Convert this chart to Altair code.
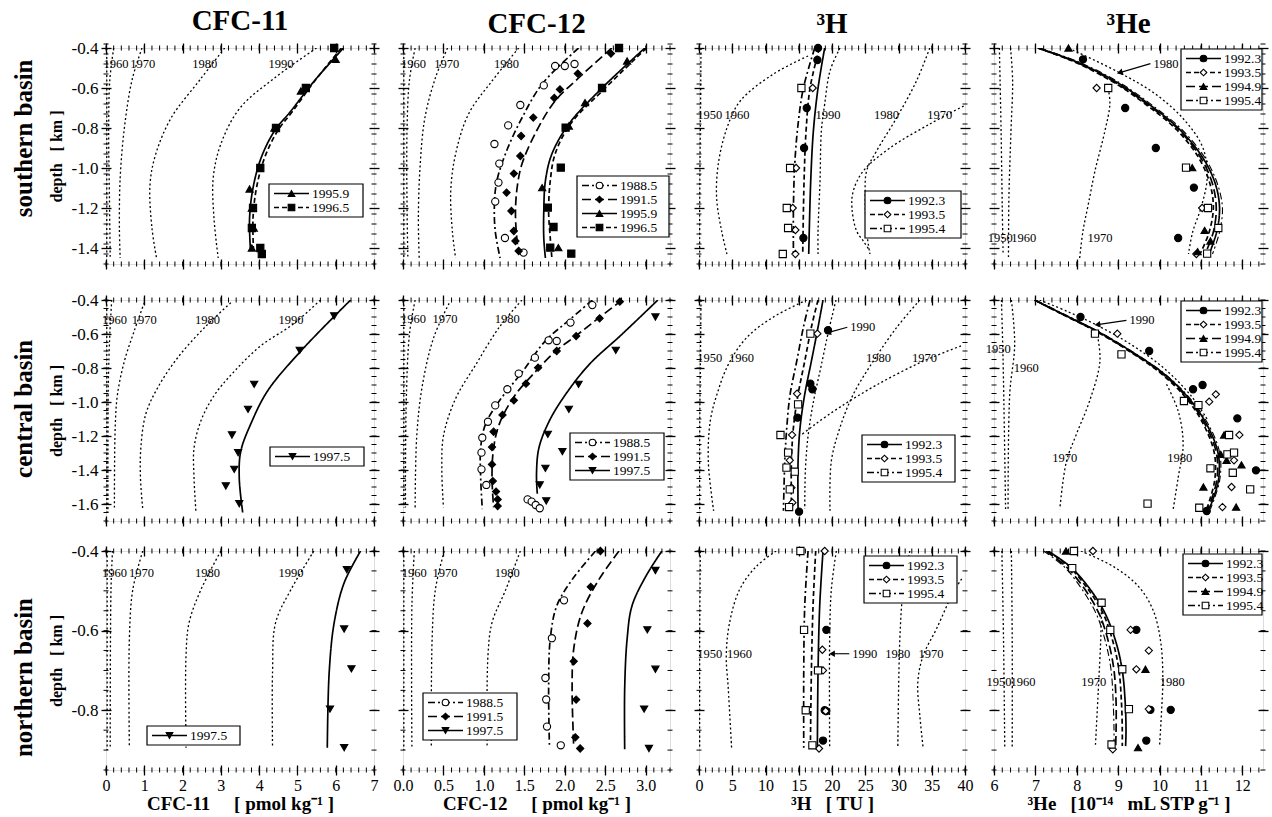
import math
import altair as alt
import pandas as pd

FONT = "Liberation Serif"

# ---------------- axis ranges, ticks and titles ----------------
X_DOMAINS = {"cfc11": [0, 7], "cfc12": [0, 3.3], "h3": [0, 40], "he3": [6, 12.5]}
X_TICKS = {
    "cfc11": [0, 1, 2, 3, 4, 5, 6, 7],
    "cfc12": [0.0, 0.5, 1.0, 1.5, 2.0, 2.5, 3.0],
    "h3": [0, 5, 10, 15, 20, 25, 30, 35, 40],
    "he3": [6, 7, 8, 9, 10, 11, 12],
}
X_MINOR_STEP = {"cfc11": 0.2, "cfc12": 0.1, "h3": 1.0, "he3": 0.2}
Y_DOMAINS = {"south": [-1.48, -0.4], "central": [-1.7, -0.4], "north": [-0.95, -0.4]}
Y_TICKS = {
    "south": [-0.4, -0.6, -0.8, -1.0, -1.2, -1.4],
    "central": [-0.4, -0.6, -0.8, -1.0, -1.2, -1.4, -1.6],
    "north": [-0.4, -0.6, -0.8],
}
Y_MINOR_STEP = {"south": 0.05, "central": 0.05, "north": 0.05}
COLUMNS = ["cfc11", "cfc12", "h3", "he3"]
ROWS = ["south", "central", "north"]
COLUMN_TITLES = {"cfc11": "CFC-11", "cfc12": "CFC-12", "h3": "³H", "he3": "³He"}
ROW_TITLES = {"south": "southern basin", "central": "central basin", "north": "northern basin"}
NB = "\u00a0"
X_TITLES = {
    "cfc11": "CFC-11" + NB * 5 + "[ pmol kg⁻¹ ]",
    "cfc12": "CFC-12" + NB * 5 + "[ pmol kg⁻¹ ]",
    "h3": "³H" + NB * 3 + "[ TU ]",
    "he3": "³He" + NB * 3 + "[10⁻¹⁴" + NB * 3 + "mL STP g⁻¹ ]",
}
Y_TITLE = "depth" + NB * 3 + "[ km ]"

# ---------------- series styles ----------------
STYLE_NAMES = ["solid", "dash", "longdash", "dashdot", "dot"]
STYLE_DASHES = [[1, 0], [5, 3], [9, 4], [7, 3, 2, 3], [2, 2.5]]
SERIES_STYLE = {"1988.5": "dashdot", "1991.5": "longdash", "1995.9": "solid", "1996.5": "dash",
                "1997.5": "solid", "1992.3": "solid", "1993.5": "dash", "1994.9": "longdash",
                "1995.4": "dashdot"}
SERIES_SHAPE = {"1988.5": "circle", "1991.5": "diamond", "1995.9": "triangle-up", "1996.5": "square",
                "1997.5": "triangle-down", "1992.3": "circle", "1993.5": "diamond",
                "1994.9": "triangle-up", "1995.4": "square"}
SERIES_FILL = {"1988.5": "white", "1991.5": "black", "1995.9": "black", "1996.5": "black",
               "1997.5": "black", "1992.3": "black", "1993.5": "white", "1994.9": "black",
               "1995.4": "white"}

# =============== SOUTHERN BASIN ===============
S_CFC11_ISO = {
    "1950": [(0.02, -0.4), (0.02, -1.45)],
    "1960": [(0.2, -0.4), (0.1, -0.56), (0.07, -0.8), (0.09, -1.15), (0.11, -1.45)],
    "1970": [(0.94, -0.4), (0.68, -0.56), (0.48, -0.8), (0.37, -1.05), (0.35, -1.3), (0.37, -1.45)],
    "1980": [(3.1, -0.4), (2.45, -0.56), (1.7, -0.75), (1.3, -0.93), (1.15, -1.08), (1.2, -1.3), (1.32, -1.45)],
    "1990": [(5.5, -0.4), (4.4, -0.55), (3.5, -0.7), (3.0, -0.88), (2.8, -1.05), (2.82, -1.25), (2.93, -1.45)],
}
S_CFC11_LABELS = [("1960", 0.26, -0.48), ("1970", 0.96, -0.48), ("1980", 2.58, -0.48), ("1990", 4.57, -0.48)]
S_CFC11_MODEL = {
    "1995.9": [(6.2, -0.4), (5.44, -0.565), (4.83, -0.715), (4.4, -0.815), (4.05, -0.95), (3.84, -1.1), (3.75, -1.25), (3.77, -1.4)],
    "1996.5": [(6.15, -0.4), (5.45, -0.565), (4.88, -0.715), (4.48, -0.815), (4.14, -0.95), (3.93, -1.1), (3.84, -1.25), (3.85, -1.4)],
}
S_CFC11_OBS = {
    "1995.9": [(6.0, -0.457), (5.09, -0.615), (4.4, -0.8), (3.75, -1.105), (3.81, -1.2), (3.86, -1.3), (3.81, -1.4)],
    "1996.5": [(5.96, -0.4), (5.22, -0.6), (4.44, -0.8), (4.03, -1.0), (3.84, -1.2), (3.81, -1.3), (4.03, -1.4), (4.07, -1.43)],
}

S_CFC12_ISO = {
    "1950": [(0.01, -0.4), (0.01, -1.45)],
    "1960": [(0.15, -0.4), (0.08, -0.56), (0.05, -0.8), (0.05, -1.2), (0.06, -1.45)],
    "1970": [(0.55, -0.4), (0.4, -0.55), (0.27, -0.75), (0.21, -1.0), (0.19, -1.25), (0.2, -1.45)],
    "1980": [(1.43, -0.4), (1.1, -0.565), (0.81, -0.73), (0.65, -0.93), (0.59, -1.115), (0.61, -1.315), (0.65, -1.45)],
}
S_CFC12_LABELS = [("1960", 0.13, -0.48), ("1970", 0.54, -0.48), ("1980", 1.28, -0.48)]
S_CFC12_MODEL = {
    "1988.5": [(2.17, -0.4), (1.72, -0.58), (1.47, -0.75), (1.28, -0.915), (1.16, -1.065), (1.13, -1.18), (1.14, -1.315), (1.2, -1.45)],
    "1991.5": [(2.58, -0.4), (2.17, -0.55), (1.88, -0.665), (1.65, -0.815), (1.47, -0.98), (1.41, -1.1), (1.39, -1.23), (1.41, -1.365), (1.43, -1.43)],
    "1995.9": [(2.99, -0.4), (2.46, -0.6), (2.05, -0.78), (1.84, -0.93), (1.76, -1.065), (1.74, -1.215), (1.74, -1.35), (1.76, -1.45)],
    "1996.5": [(3.01, -0.4), (2.5, -0.6), (2.07, -0.78), (1.88, -0.93), (1.82, -1.065), (1.8, -1.215), (1.82, -1.35), (1.84, -1.45)],
}
S_CFC12_OBS = {
    "1988.5": [(1.88, -0.49), (2.0, -0.49), (2.12, -0.48), (1.74, -0.587), (1.45, -0.685), (1.3, -0.787), (1.13, -0.88),
               (1.19, -0.978), (1.18, -1.073), (1.14, -1.168), (1.26, -1.35), (1.49, -1.423)],
    "1991.5": [(2.57, -0.428), (2.16, -0.528), (1.94, -0.607), (1.87, -0.65), (1.61, -0.748), (1.46, -0.84), (1.45, -0.94),
               (1.37, -1.028), (1.28, -1.123), (1.34, -1.215), (1.37, -1.315), (1.39, -1.365), (1.43, -1.415)],
    "1995.9": [(2.77, -0.465), (2.46, -0.598), (2.25, -0.673), (2.05, -0.79), (1.72, -1.098), (1.92, -1.398)],
    "1996.5": [(2.67, -0.4), (2.46, -0.6), (2.01, -0.798), (1.95, -0.998), (1.79, -1.198), (1.86, -1.295), (1.82, -1.398), (2.08, -1.428)],
}

S_H3_ISO = {
    "1950": [(0.3, -0.4), (0.2, -0.8), (0.1, -1.2), (0.1, -1.45)],
    "1960": [(16.4, -0.44), (11.2, -0.53), (6.2, -0.665), (4.2, -0.8), (2.9, -0.98), (2.65, -1.15), (3.4, -1.315), (4.2, -1.43)],
    "1990": [(21.2, -0.4), (19.7, -0.515), (18.9, -0.68), (18.4, -0.815), (18.2, -1.065), (17.9, -1.315), (17.9, -1.43)],
    "1980": [(34.7, -0.4), (32.7, -0.565), (29.7, -0.75), (26.7, -0.915), (25.2, -1.015), (25.0, -1.15), (25.2, -1.315), (25.7, -1.43)],
    "1970": [(39.8, -0.69), (34.7, -0.78), (28.7, -0.9), (24.7, -1.015), (23.2, -1.115), (23.0, -1.2), (23.7, -1.315), (24.7, -1.365), (25.7, -1.415)],
}
S_H3_LABELS = [("1950", 1.6, -0.735), ("1960", 5.7, -0.735), ("1990", 19.4, -0.735), ("1980", 28.2, -0.735), ("1970", 36.2, -0.735)]
S_H3_MODEL = {
    "1992.3": [(18.9, -0.4), (17.9, -0.6), (17.2, -0.815), (16.8, -1.065), (16.5, -1.43)],
    "1993.5": [(18.1, -0.4), (16.7, -0.6), (16.1, -0.815), (15.8, -1.065), (15.6, -1.43)],
    "1995.4": [(17.4, -0.4), (15.7, -0.6), (14.9, -0.78), (14.4, -0.98), (14.2, -1.2), (14.2, -1.43)],
}
S_H3_OBS = {
    "1992.3": [(17.9, -0.4), (17.8, -0.46), (16.2, -0.7), (15.8, -0.9), (15.7, -1.35)],
    "1993.5": [(17.1, -0.6), (14.6, -1.0), (14.1, -1.2), (14.5, -1.31), (14.5, -1.43)],
    "1995.4": [(15.4, -0.6), (13.7, -1.0), (13.2, -1.2), (13.4, -1.3), (12.6, -1.43)],
}

S_HE3_ISO = {
    "1950": [(6.13, -0.4), (6.17, -0.8), (6.2, -1.2), (6.22, -1.43)],
    "1960": [(6.4, -0.4), (6.45, -0.565), (6.41, -0.815), (6.36, -1.15), (6.35, -1.45)],
    "1970": [(8.76, -0.6), (8.8, -0.68), (8.68, -0.815), (8.44, -1.015), (8.28, -1.18), (8.15, -1.315), (8.07, -1.45)],
    "1980": [(7.9, -0.41), (9.0, -0.52), (9.9, -0.63), (10.6, -0.76), (11.05, -0.9), (11.15, -1.05), (11.0, -1.2), (10.8, -1.32), (10.7, -1.43)],
}
S_HE3_LABELS = [("1950", 6.15, -1.35), ("1960", 6.72, -1.35), ("1970", 8.56, -1.35)]
S_HE3_ARROW = ("1980", 9.78, -0.478, 9.04, -0.523)
S_HE3_MODEL = {
    "1992.3": [(7.06, -0.4), (8.0, -0.47), (9.0, -0.575), (9.8, -0.69), (10.5, -0.81), (11.05, -0.95), (11.35, -1.08), (11.45, -1.2), (11.38, -1.32), (11.2, -1.43)],
    "1993.5": [(7.06, -0.4), (7.95, -0.47), (8.92, -0.575), (9.72, -0.69), (10.42, -0.81), (10.95, -0.95), (11.22, -1.08), (11.3, -1.2), (11.2, -1.32), (10.98, -1.43)],
    "1994.9": [(7.06, -0.4), (7.98, -0.47), (8.95, -0.575), (9.76, -0.69), (10.47, -0.81), (11.0, -0.95), (11.28, -1.08), (11.37, -1.2), (11.3, -1.32), (11.1, -1.43)],
    "1995.4": [(7.1, -0.4), (8.05, -0.47), (9.05, -0.575), (9.85, -0.69), (10.55, -0.81), (11.1, -0.95), (11.4, -1.08), (11.52, -1.2), (11.45, -1.32), (11.28, -1.43)],
}
S_HE3_OBS = {
    "1992.3": [(8.15, -0.457), (9.17, -0.7), (9.91, -0.9), (10.83, -1.098), (10.45, -1.35)],
    "1993.5": [(8.48, -0.6), (11.03, -1.2), (10.89, -1.43)],
    "1994.9": [(7.8, -0.4), (10.79, -0.998), (11.09, -1.312), (11.23, -1.365), (10.92, -1.418)],
    "1995.4": [(8.76, -0.6), (10.64, -0.998), (11.17, -1.2), (11.42, -1.3), (11.15, -1.428)],
}

# =============== CENTRAL BASIN ===============
C_CFC11_ISO = {
    "1950": [(0.02, -0.4), (0.02, -1.65)],
    "1960": [(0.15, -0.4), (0.1, -0.6), (0.06, -0.9), (0.05, -1.3), (0.05, -1.65)],
    "1970": [(1.0, -0.416), (0.74, -0.58), (0.48, -0.76), (0.3, -0.955), (0.24, -1.15), (0.22, -1.62)],
    "1980": [(3.26, -0.416), (2.57, -0.563), (1.87, -0.74), (1.35, -0.916), (1.04, -1.07), (0.91, -1.27), (0.9, -1.445), (0.96, -1.63)],
    "1990": [(5.6, -0.4), (4.9, -0.54), (4.04, -0.67), (3.35, -0.82), (2.83, -0.96), (2.48, -1.11), (2.3, -1.27), (2.3, -1.45), (2.35, -1.65)],
}
C_CFC11_LABELS = [("1960", 0.22, -0.52), ("1970", 1.0, -0.52), ("1980", 2.65, -0.52), ("1990", 4.83, -0.52)]
C_CFC11_MODEL = {
    "1997.5": [(6.39, -0.4), (5.09, -0.7), (4.22, -0.935), (3.78, -1.13), (3.52, -1.29), (3.48, -1.445), (3.57, -1.65)],
}
C_CFC11_OBS = {
    "1997.5": [(5.96, -0.494), (5.06, -0.696), (3.87, -0.896), (3.71, -1.043), (3.29, -1.194), (3.45, -1.298),
               (3.35, -1.396), (3.13, -1.494), (3.48, -1.598)],
}

C_CFC12_ISO = {
    "1950": [(0.01, -0.4), (0.01, -1.62)],
    "1960": [(0.15, -0.4), (0.08, -0.6), (0.04, -1.0), (0.03, -1.62)],
    "1970": [(0.57, -0.42), (0.38, -0.62), (0.24, -0.9), (0.17, -1.2), (0.15, -1.62)],
    "1980": [(1.47, -0.4), (1.19, -0.56), (0.9, -0.78), (0.65, -0.98), (0.5, -1.2), (0.48, -1.4), (0.5, -1.62)],
}
C_CFC12_LABELS = [("1960", 0.13, -0.51), ("1970", 0.52, -0.51), ("1980", 1.29, -0.51)]
C_CFC12_MODEL = {
    "1988.5": [(2.34, -0.4), (2.05, -0.52), (1.76, -0.64), (1.48, -0.82), (1.19, -0.994), (1.02, -1.13), (0.96, -1.27), (0.96, -1.445), (0.98, -1.63)],
    "1991.5": [(2.71, -0.4), (2.38, -0.52), (2.14, -0.61), (1.89, -0.7), (1.64, -0.82), (1.37, -0.97), (1.19, -1.13), (1.12, -1.27), (1.1, -1.445), (1.12, -1.62)],
    "1997.5": [(3.15, -0.4), (2.71, -0.6), (2.3, -0.78), (2.01, -0.955), (1.81, -1.11), (1.68, -1.27), (1.65, -1.425), (1.66, -1.54)],
}
C_CFC12_OBS = {
    "1988.5": [(2.34, -0.43), (2.07, -0.533), (1.8, -0.637), (1.9, -0.641), (1.63, -0.739), (1.43, -0.833), (1.29, -0.925),
               (1.14, -1.02), (1.05, -1.116), (0.98, -1.21), (0.97, -1.298), (0.97, -1.396), (1.03, -1.488),
               (1.54, -1.573), (1.59, -1.586), (1.64, -1.606), (1.69, -1.625)],
    "1991.5": [(2.68, -0.41), (2.43, -0.508), (2.14, -0.612), (1.9, -0.7), (1.67, -0.798), (1.52, -0.892), (1.37, -0.99),
               (1.23, -1.076), (1.12, -1.175), (1.1, -1.265), (1.1, -1.367), (1.11, -1.465), (1.15, -1.527),
               (1.17, -1.573), (1.17, -1.612)],
    "1997.5": [(3.12, -0.5), (2.63, -0.696), (2.17, -0.896), (2.05, -1.043), (1.79, -1.19), (1.97, -1.292), (1.76, -1.39),
               (1.69, -1.488), (1.77, -1.582)],
}

C_H3_ISO = {
    "1950": [(0.3, -0.4), (0.2, -0.8), (0.1, -1.2), (0.1, -1.63)],
    "1960": [(16.2, -0.4), (11.2, -0.5), (7.2, -0.62), (4.4, -0.78), (2.7, -0.955), (1.7, -1.11), (1.4, -1.35), (2.2, -1.64)],
    "1990": [(20.6, -0.4), (19.5, -0.58), (18.3, -0.8), (17.2, -1.0), (16.4, -1.2), (16.0, -1.4), (15.9, -1.63)],
    "1980": [(33.2, -0.4), (29.7, -0.563), (26.2, -0.76), (23.2, -0.955), (21.2, -1.15), (19.9, -1.347), (19.7, -1.64)],
    "1970": [(39.4, -0.67), (33.7, -0.76), (26.7, -0.9), (21.2, -1.03), (17.5, -1.13), (15.5, -1.19)],
}
C_H3_LABELS = [("1950", 1.6, -0.74), ("1960", 6.4, -0.74), ("1980", 27.0, -0.74), ("1970", 33.9, -0.74)]
C_H3_ARROW = ("1990", 22.3, -0.56, 19.4, -0.592)
C_H3_MODEL = {
    "1992.3": [(18.65, -0.4), (17.9, -0.56), (16.9, -0.76), (15.9, -0.955), (15.2, -1.15), (14.9, -1.35), (14.9, -1.64)],
    "1993.5": [(17.9, -0.4), (16.9, -0.56), (15.9, -0.76), (14.9, -0.955), (14.2, -1.15), (13.9, -1.35), (13.9, -1.64)],
    "1995.4": [(16.7, -0.4), (15.7, -0.56), (14.7, -0.76), (13.7, -0.955), (13.2, -1.15), (12.9, -1.35), (12.7, -1.64)],
}
C_H3_OBS = {
    "1992.3": [(19.4, -0.578), (16.75, -0.892), (17.05, -0.925), (14.8, -1.092), (15.05, -1.645)],
    "1993.5": [(17.8, -0.598), (14.75, -0.951), (14.0, -1.194), (13.65, -1.343), (13.9, -1.504), (14.05, -1.592)],
    "1995.4": [(16.75, -0.598), (14.9, -1.014), (12.25, -1.194), (13.4, -1.298), (13.15, -1.386), (14.4, -1.41),
               (13.65, -1.514), (13.55, -1.618)],
}

C_HE3_ISO = {
    "1950": [(6.18, -0.4), (6.22, -0.76), (6.28, -1.63)],
    "1960": [(6.42, -0.4), (6.5, -0.66), (6.38, -0.955), (6.34, -1.63)],
    "1970": [(8.48, -0.58), (8.56, -0.76), (8.31, -0.994), (7.99, -1.19), (7.75, -1.35), (7.59, -1.63)],
    "1980": [(10.17, -0.896), (10.45, -1.053), (10.57, -1.249), (10.45, -1.445), (10.33, -1.63)],
    "1990": [(7.1, -0.4), (7.8, -0.47), (8.5, -0.55), (9.3, -0.66), (10.1, -0.8), (10.75, -0.96), (11.15, -1.1)],
}
C_HE3_LABELS = [("1950", 6.1, -0.69), ("1960", 6.78, -0.8), ("1970", 7.71, -1.327), ("1980", 10.49, -1.327)]
C_HE3_ARROW = ("1990", 9.2, -0.52, 8.5, -0.545)
C_HE3_MODEL = {
    "1992.3": [(6.98, -0.4), (7.67, -0.484), (8.48, -0.582), (9.3, -0.7), (10.12, -0.837), (10.76, -0.994), (11.18, -1.15), (11.42, -1.308), (11.42, -1.465), (11.2, -1.63)],
    "1993.5": [(6.98, -0.4), (7.65, -0.484), (8.45, -0.582), (9.26, -0.7), (10.06, -0.837), (10.7, -0.994), (11.1, -1.15), (11.33, -1.308), (11.33, -1.465), (11.14, -1.63)],
    "1994.9": [(6.98, -0.4), (7.66, -0.484), (8.47, -0.582), (9.28, -0.7), (10.09, -0.837), (10.73, -0.994), (11.14, -1.15), (11.38, -1.308), (11.38, -1.465), (11.17, -1.63)],
    "1995.4": [(7.0, -0.4), (7.7, -0.484), (8.5, -0.582), (9.32, -0.7), (10.14, -0.837), (10.79, -0.994), (11.22, -1.15), (11.46, -1.308), (11.45, -1.465), (11.23, -1.63)],
}
C_HE3_OBS = {
    "1992.3": [(8.09, -0.5), (9.75, -0.7), (10.81, -0.925), (11.04, -0.9), (11.88, -1.096), (12.33, -1.402), (11.14, -1.641)],
    "1993.5": [(8.98, -0.598), (11.2, -0.998), (11.36, -0.955), (11.93, -1.194), (11.8, -1.343), (11.74, -1.5), (11.52, -1.618)],
    "1994.9": [(11.56, -1.194), (11.62, -1.343), (11.98, -1.37), (11.06, -1.5), (11.85, -1.618), (11.48, -1.308)],
    "1995.4": [(8.44, -0.598), (9.08, -0.72), (10.59, -0.994), (10.94, -1.018), (11.68, -1.194), (11.64, -1.308),
               (11.8, -1.298), (11.77, -1.416), (11.23, -1.39), (12.19, -1.514), (9.71, -1.598), (10.96, -1.622)],
}

# =============== NORTHERN BASIN ===============
N_CFC11_ISO = {
    "1950": [(0.03, -0.4), (0.03, -0.9)],
    "1960": [(0.17, -0.4), (0.13, -0.497), (0.11, -0.894)],
    "1970": [(0.96, -0.4), (0.7, -0.497), (0.61, -0.621), (0.61, -0.894)],
    "1980": [(3.0, -0.4), (2.48, -0.497), (2.17, -0.58), (2.09, -0.663), (2.09, -0.894)],
    "1990": [(5.43, -0.4), (4.83, -0.497), (4.43, -0.58), (4.35, -0.704), (4.35, -0.894)],
}
N_CFC11_LABELS = [("1960", 0.22, -0.455), ("1970", 0.93, -0.455), ("1980", 2.65, -0.455), ("1990", 4.83, -0.455)]
N_CFC11_MODEL = {
    "1997.5": [(6.65, -0.4), (6.22, -0.48), (5.96, -0.58), (5.83, -0.704), (5.78, -0.894)],
}
N_CFC11_OBS = {
    "1997.5": [(6.29, -0.447), (6.22, -0.596), (6.41, -0.696), (5.85, -0.797), (6.22, -0.894)],
}

N_CFC12_ISO = {
    "1950": [(0.01, -0.4), (0.01, -0.9)],
    "1960": [(0.14, -0.4), (0.11, -0.538), (0.11, -0.894)],
    "1970": [(0.51, -0.4), (0.4, -0.497), (0.36, -0.621), (0.35, -0.894)],
    "1980": [(1.45, -0.4), (1.27, -0.497), (1.1, -0.58), (1.05, -0.663), (1.04, -0.894)],
}
N_CFC12_LABELS = [("1960", 0.14, -0.455), ("1970", 0.52, -0.455), ("1980", 1.29, -0.455)]
N_CFC12_MODEL = {
    "1988.5": [(2.38, -0.4), (2.09, -0.472), (1.9, -0.538), (1.82, -0.621), (1.8, -0.745), (1.81, -0.89)],
    "1991.5": [(2.67, -0.4), (2.42, -0.472), (2.21, -0.555), (2.11, -0.646), (2.09, -0.745), (2.11, -0.89)],
    "1997.5": [(3.2, -0.4), (3.0, -0.464), (2.83, -0.538), (2.77, -0.621), (2.74, -0.745), (2.74, -0.898)],
}
N_CFC12_OBS = {
    "1988.5": [(1.99, -0.524), (1.84, -0.619), (1.76, -0.719), (1.77, -0.773), (1.78, -0.841), (1.95, -0.888)],
    "1991.5": [(2.44, -0.4), (2.32, -0.49), (2.28, -0.582), (2.11, -0.677), (2.14, -0.773), (2.13, -0.868), (2.19, -0.896)],
    "1997.5": [(3.12, -0.449), (3.02, -0.598), (3.12, -0.697), (2.98, -0.797), (3.04, -0.896)],
}

N_H3_ISO = {
    "1950": [(0.2, -0.4), (0.1, -0.621), (0.1, -0.894)],
    "1960": [(11.6, -0.4), (8.6, -0.439), (6.1, -0.497), (4.6, -0.58), (4.1, -0.663), (4.4, -0.745), (4.9, -0.894)],
    "1990": [(20.65, -0.4), (19.9, -0.497), (19.65, -0.621), (19.65, -0.894)],
    "1980": [(31.7, -0.4), (30.7, -0.497), (30.2, -0.621), (29.9, -0.894)],
    "1970": [(39.5, -0.47), (38.2, -0.505), (35.7, -0.596), (33.7, -0.663), (32.9, -0.73), (33.2, -0.812), (33.7, -0.894)],
}
N_H3_LABELS = [("1950", 1.6, -0.658), ("1960", 6.1, -0.658), ("1980", 29.9, -0.658), ("1970", 34.9, -0.658)]
N_H3_ARROW = ("1990", 22.6, -0.658, 20.0, -0.658)
N_H3_MODEL = {
    "1992.3": [(18.65, -0.4), (18.15, -0.538), (17.9, -0.704), (17.8, -0.894)],
    "1993.5": [(17.55, -0.4), (17.15, -0.538), (16.9, -0.704), (16.75, -0.894)],
    "1995.4": [(16.4, -0.4), (15.9, -0.538), (15.75, -0.704), (15.75, -0.894)],
}
N_H3_OBS = {
    "1992.3": [(19.15, -0.598), (18.9, -0.8), (19.15, -0.802), (18.65, -0.876)],
    "1993.5": [(18.9, -0.4), (18.55, -0.648), (18.65, -0.7), (19.05, -0.802), (18.05, -0.896)],
    "1995.4": [(15.25, -0.4), (15.8, -0.598), (17.9, -0.7), (16.05, -0.8), (17.05, -0.888)],
}

N_HE3_ISO = {
    "1950": [(6.19, -0.4), (6.23, -0.621), (6.26, -0.894)],
    "1960": [(6.42, -0.4), (6.44, -0.621), (6.44, -0.894)],
    "1970": [(8.6, -0.52), (8.58, -0.62), (8.52, -0.75), (8.45, -0.89)],
    "1980": [(8.1, -0.4), (8.9, -0.44), (9.5, -0.49), (9.85, -0.55), (10.03, -0.63), (10.08, -0.72), (10.05, -0.8), (10.0, -0.89)],
}
N_HE3_LABELS = [("1950", 6.12, -0.729), ("1960", 6.7, -0.729), ("1970", 8.41, -0.729), ("1980", 10.31, -0.729)]
N_HE3_MODEL = {
    "1992.3": [(7.3, -0.4), (7.85, -0.44), (8.35, -0.5), (8.7, -0.56), (8.95, -0.63), (9.1, -0.7), (9.17, -0.78), (9.19, -0.85), (9.18, -0.89)],
    "1993.5": [(7.3, -0.4), (7.82, -0.44), (8.3, -0.5), (8.65, -0.56), (8.88, -0.63), (9.02, -0.7), (9.08, -0.78), (9.1, -0.85), (9.1, -0.89)],
    "1994.9": [(7.25, -0.4), (7.75, -0.44), (8.22, -0.5), (8.55, -0.56), (8.77, -0.63), (8.9, -0.7), (8.95, -0.78), (8.95, -0.85), (8.94, -0.89)],
    "1995.4": [(7.2, -0.4), (7.7, -0.44), (8.15, -0.5), (8.48, -0.56), (8.7, -0.63), (8.83, -0.7), (8.88, -0.78), (8.9, -0.85), (8.9, -0.89)],
}
N_HE3_OBS = {
    "1992.3": [(9.44, -0.598), (9.78, -0.799), (10.27, -0.799), (9.68, -0.876)],
    "1993.5": [(8.39, -0.4), (9.3, -0.598), (9.74, -0.65), (9.44, -0.697), (9.74, -0.797), (8.87, -0.898)],
    "1994.9": [(7.74, -0.4), (9.66, -0.697), (9.48, -0.894)],
    "1995.4": [(7.93, -0.4), (7.89, -0.443), (8.6, -0.53), (8.81, -0.598), (9.1, -0.697), (9.26, -0.797), (8.84, -0.886)],
}

# ---------------- layout (pixels) ----------------
WIDTHS = {"cfc11": 268, "cfc12": 267, "h3": 266, "he3": 269}
HEIGHTS = {"south": 216, "central": 221, "north": 219}
COL_GAP = 29
ROW_SPACING = [19, 13]
ROW_H = 14
# legend box: left, top, width (px inside the plot area)
LEGEND_BOX = {
    ("south", "cfc11"): (163, 136, 94), ("south", "cfc12"): (174, 128, 92),
    ("south", "h3"): (166, 143, 96), ("south", "he3"): (187, 1, 81),
    ("central", "cfc11"): (164, 147, 94), ("central", "cfc12"): (167, 133, 94),
    ("central", "h3"): (163, 135, 93), ("central", "he3"): (187, 1, 81),
    ("north", "cfc11"): (41, 175, 93), ("north", "cfc12"): (20, 142, 94),
    ("north", "h3"): (165, 5, 93), ("north", "he3"): (189, 3, 79),
}

PANELS = {
    ("south", "cfc11"): (S_CFC11_ISO, S_CFC11_LABELS, S_CFC11_MODEL, S_CFC11_OBS, None),
    ("south", "cfc12"): (S_CFC12_ISO, S_CFC12_LABELS, S_CFC12_MODEL, S_CFC12_OBS, None),
    ("south", "h3"): (S_H3_ISO, S_H3_LABELS, S_H3_MODEL, S_H3_OBS, None),
    ("south", "he3"): (S_HE3_ISO, S_HE3_LABELS, S_HE3_MODEL, S_HE3_OBS, S_HE3_ARROW),
    ("central", "cfc11"): (C_CFC11_ISO, C_CFC11_LABELS, C_CFC11_MODEL, C_CFC11_OBS, None),
    ("central", "cfc12"): (C_CFC12_ISO, C_CFC12_LABELS, C_CFC12_MODEL, C_CFC12_OBS, None),
    ("central", "h3"): (C_H3_ISO, C_H3_LABELS, C_H3_MODEL, C_H3_OBS, C_H3_ARROW),
    ("central", "he3"): (C_HE3_ISO, C_HE3_LABELS, C_HE3_MODEL, C_HE3_OBS, C_HE3_ARROW),
    ("north", "cfc11"): (N_CFC11_ISO, N_CFC11_LABELS, N_CFC11_MODEL, N_CFC11_OBS, None),
    ("north", "cfc12"): (N_CFC12_ISO, N_CFC12_LABELS, N_CFC12_MODEL, N_CFC12_OBS, None),
    ("north", "h3"): (N_H3_ISO, N_H3_LABELS, N_H3_MODEL, N_H3_OBS, N_H3_ARROW),
    ("north", "he3"): (N_HE3_ISO, N_HE3_LABELS, N_HE3_MODEL, N_HE3_OBS, None),
}

DASH_SCALE = alt.Scale(domain=STYLE_NAMES, range=STYLE_DASHES)
Y_LABEL_EXPR = "datum.value < 0 ? '-' + format(-datum.value, '.1f') : format(datum.value, '.1f')"


def minor_values(lo, hi, step):
    n = int(round((hi - lo) / step))
    return [round(lo + k * step, 6) for k in range(n + 1)]


def make_panel(row, col):
    iso, labels, model, obs, arrow = PANELS[(row, col)]
    xdom, ydom = X_DOMAINS[col], Y_DOMAINS[row]
    W, H = WIDTHS[col], HEIGHTS[row]
    show_x = row == "north"
    show_y = col == "cfc11"
    sx = alt.Scale(domain=xdom, nice=False, zero=False)
    sy = alt.Scale(domain=ydom, nice=False, zero=False)

    def fx(px):
        return xdom[0] + px / W * (xdom[1] - xdom[0])

    def fy(py):
        return ydom[1] - py / H * (ydom[1] - ydom[0])

    def XE(field="x"):
        return alt.X(f"{field}:Q", scale=sx, axis=None)

    def YE(field="d"):
        return alt.Y(f"{field}:Q", scale=sy, axis=None)

    rows = []
    for name, pts in iso.items():
        for i, (x, d) in enumerate(pts):
            rows.append({"curve": "iso" + name, "style": "dot", "w": 1.3, "i": i, "x": x, "d": d})
    for name, pts in model.items():
        w = 1.1 if (col == "he3" and name == "1995.4") else 1.7
        for i, (x, d) in enumerate(pts):
            rows.append({"curve": "m" + name, "style": SERIES_STYLE[name], "w": w, "i": i, "x": x, "d": d})
    lines_df = pd.DataFrame(rows)

    obs_rows = []
    for name, pts in obs.items():
        for x, d in pts:
            obs_rows.append({"series": name, "shape": SERIES_SHAPE[name], "fill": SERIES_FILL[name], "x": x, "d": d})
    obs_df = pd.DataFrame(obs_rows)

    lab_df = pd.DataFrame([{"label": t, "x": x, "d": d} for t, x, d in labels])

    xfmt = dict(format=".1f") if col == "cfc12" else dict(format="d")

    x_main = alt.Axis(orient="bottom", values=X_TICKS[col], labels=show_x, labelFontSize=16,
                      title=X_TITLES[col] if show_x else None, titleFontSize=19, titleFontWeight="bold",
                      titlePadding=1, tickSize=10, offset=-5, labelPadding=2, domain=False, grid=False,
                      labelFlush=False, labelOverlap=False, tickColor="black", tickWidth=1.3,
                      labelFont=FONT, titleFont=FONT, labelColor="black", titleColor="black", **xfmt)
    y_main = alt.Axis(orient="left", values=Y_TICKS[row], labels=show_y, labelFontSize=17,
                      labelExpr=Y_LABEL_EXPR, title=Y_TITLE if show_y else None, titleFontSize=16,
                      titleFontWeight="bold", titlePadding=7, tickSize=10, offset=-5, labelPadding=3,
                      domain=False, grid=False, labelFlush=False, labelOverlap=False, tickColor="black",
                      tickWidth=1.3, labelFont=FONT, titleFont=FONT, labelColor="black", titleColor="black")
    x_top = alt.Axis(orient="top", values=X_TICKS[col], labels=False, title=None, tickSize=10, offset=-5,
                     domain=False, grid=False, tickColor="black", tickWidth=1.3)
    y_right = alt.Axis(orient="right", values=Y_TICKS[row], labels=False, title=None, tickSize=10, offset=-5,
                       domain=False, grid=False, tickColor="black", tickWidth=1.3)

    layers = []
    # minor ticks on all four edges
    mx = pd.DataFrame({"x": minor_values(xdom[0], xdom[1], X_MINOR_STEP[col])})
    my = pd.DataFrame({"d": minor_values(ydom[0], ydom[1], Y_MINOR_STEP[row])})
    for ypix in (0, H):
        layers.append(alt.Chart(mx).mark_tick(orient="vertical", size=5, thickness=1, color="black", opacity=1)
                      .encode(x=XE(), y=alt.value(ypix)))
    for xpix in (0, W):
        layers.append(alt.Chart(my).mark_tick(orient="horizontal", size=5, thickness=1, color="black", opacity=1)
                      .encode(y=YE(), x=alt.value(xpix)))

    layers.append(
        alt.Chart(lines_df).mark_line(interpolate="catmull-rom", color="black", clip=True).encode(
            x=alt.X("x:Q", scale=sx, axis=x_main),
            y=alt.Y("d:Q", scale=sy, axis=y_main),
            detail="curve:N",
            order=alt.Order("i:Q"),
            strokeDash=alt.StrokeDash("style:N", scale=DASH_SCALE, legend=None),
            strokeWidth=alt.StrokeWidth("w:Q", scale=None, legend=None),
        )
    )
    layers.append(
        alt.Chart(obs_df).mark_point(filled=True, stroke="black", strokeWidth=1.1, opacity=1, size=52).encode(
            x=alt.X("x:Q", scale=sx, axis=x_top),
            y=alt.Y("d:Q", scale=sy, axis=y_right),
            shape=alt.Shape("shape:N", scale=None, legend=None),
            fill=alt.Fill("fill:N", scale=None, legend=None),
        )
    )
    layers.append(
        alt.Chart(lab_df).mark_text(font=FONT, fontSize=12.5, color="black", baseline="middle", align="center").encode(
            x=XE(), y=YE(), text="label:N")
    )
    if arrow is not None:
        t, xs, ds, xe, de = arrow
        arr_df = pd.DataFrame([{"label": t, "x": xs, "d": ds, "x2": xe, "d2": de}])
        dxp = (xe - xs) / (xdom[1] - xdom[0]) * W
        dyp = -(de - ds) / (ydom[1] - ydom[0]) * H
        ang = (math.degrees(math.atan2(dyp, dxp)) - 180.0) % 360.0
        layers.append(alt.Chart(arr_df).mark_rule(color="black", strokeWidth=1.1).encode(
            x=XE(), x2="x2:Q", y=YE(), y2="d2:Q"))
        layers.append(alt.Chart(arr_df).mark_point(shape="triangle-left", filled=True, color="black", size=45,
                                                   angle=ang, opacity=1).encode(x=XE("x2"), y=YE("d2")))
        layers.append(alt.Chart(arr_df).mark_text(font=FONT, fontSize=12.5, color="black", align="left",
                                                  baseline="middle", dx=3).encode(x=XE(), y=YE(), text="label:N"))

    # legend drawn inside the panel
    L, T, BW = LEGEND_BOX[(row, col)]
    names = list(obs.keys())
    n = len(names)
    box_df = pd.DataFrame([{"x": fx(L), "x2": fx(L + BW), "d": fy(T), "d2": fy(T + n * ROW_H + 5)}])
    leg_rows = []
    for k, name in enumerate(names):
        cy = T + 2.5 + ROW_H * (k + 0.5)
        leg_rows.append({"label": name, "style": SERIES_STYLE[name], "shape": SERIES_SHAPE[name],
                         "fill": SERIES_FILL[name], "x": fx(L + 5), "x2": fx(L + 40),
                         "xm": fx(L + 22.5), "xt": fx(L + 43), "d": fy(cy)})
    leg_df = pd.DataFrame(leg_rows)
    layers.append(alt.Chart(box_df).mark_rect(fill="white", stroke="black", strokeWidth=1.2).encode(
        x=XE(), x2="x2:Q", y=YE(), y2="d2:Q"))
    layers.append(alt.Chart(leg_df).mark_rule(color="black", strokeWidth=1.5).encode(
        x=XE(), x2="x2:Q", y=YE(),
        strokeDash=alt.StrokeDash("style:N", scale=DASH_SCALE, legend=None)))
    layers.append(alt.Chart(leg_df).mark_point(filled=True, stroke="black", strokeWidth=1.1, opacity=1, size=44).encode(
        x=XE("xm"), y=YE(),
        shape=alt.Shape("shape:N", scale=None, legend=None),
        fill=alt.Fill("fill:N", scale=None, legend=None)))
    layers.append(alt.Chart(leg_df).mark_text(font=FONT, fontSize=13.5, color="black", align="left",
                                              baseline="middle").encode(x=XE("xt"), y=YE(), text="label:N"))

    panel = alt.layer(*layers).resolve_axis(x="independent", y="independent")
    props = dict(width=W, height=H)
    if row == "south":
        props["title"] = alt.TitleParams(COLUMN_TITLES[col], font=FONT, fontSize=29, fontWeight="bold",
                                         anchor="middle", offset=3, color="black")
    return panel.properties(**props)


row_charts = []
for row in ROWS:
    panels = [make_panel(row, col) for col in COLUMNS]
    row_charts.append(
        alt.hconcat(*panels, spacing=COL_GAP, bounds="flush").properties(
            title=alt.TitleParams(ROW_TITLES[row], orient="left", anchor="middle", font=FONT, fontSize=25,
                                  fontWeight="bold", offset=11, color="black"))
    )

top_two = alt.vconcat(row_charts[0], row_charts[1], spacing=ROW_SPACING[0])
chart = (
    alt.vconcat(top_two, row_charts[2], spacing=ROW_SPACING[1])
    .properties(padding={"left": 11, "top": 6, "right": 2, "bottom": 0}, background="white")
    .configure_view(stroke="black", strokeWidth=1.5)
    .configure(font=FONT)
)

chart.save("out.html", embed_options={"renderer": "svg", "actions": False})
